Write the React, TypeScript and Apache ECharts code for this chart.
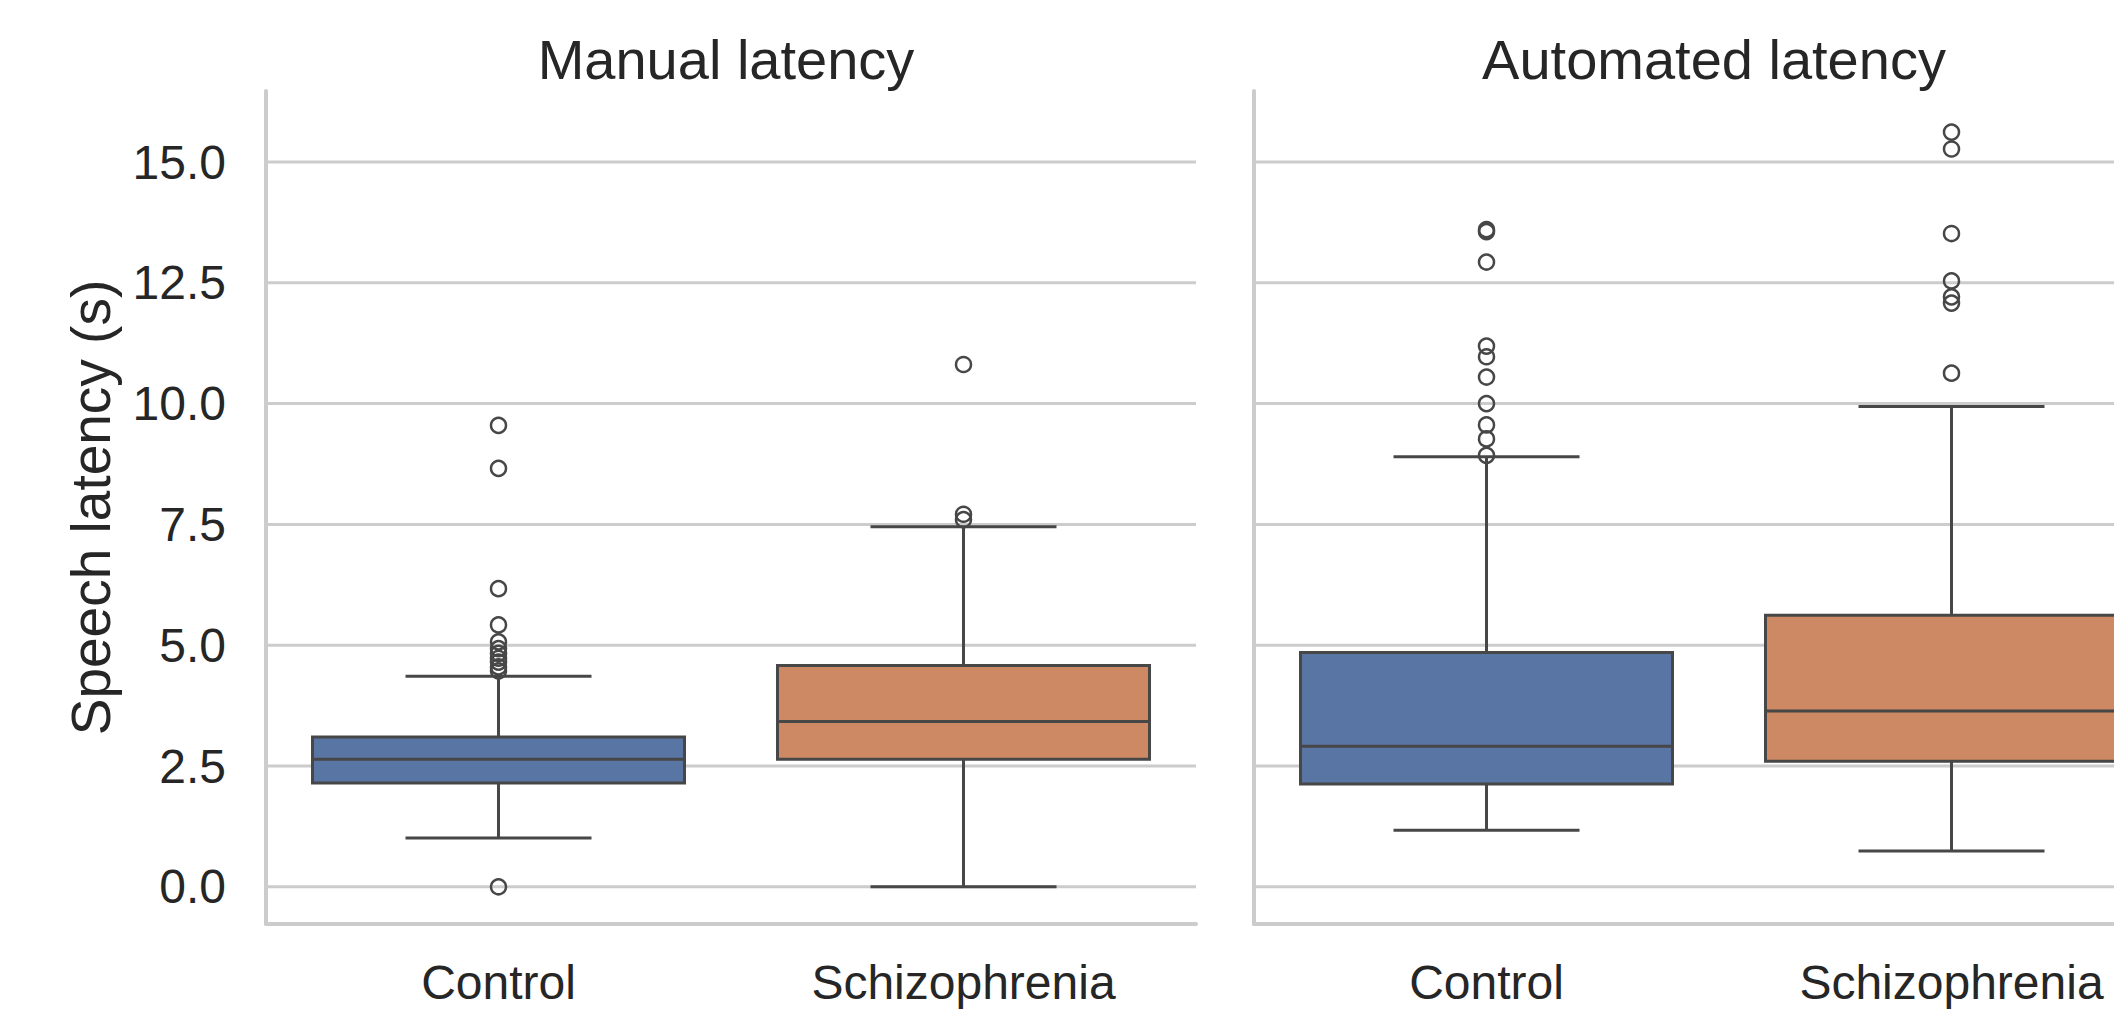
import React, { useEffect, useRef } from "react";
import * as echarts from "echarts";

// ---- data ----
const categories = ["Control", "Schizophrenia"];
const panelTitles = ["Manual latency", "Automated latency"];
const yAxisName = "Speech latency (s)";
const yTicks = [0, 2.5, 5, 7.5, 10, 12.5, 15];
const yMin = -0.77;
const yMax = 16.47;

// [lower whisker, Q1, median, Q3, upper whisker]
const manualControlBox = [1.01, 2.15, 2.64, 3.1, 4.36];
const manualSchizBox = [0.0, 2.64, 3.42, 4.58, 7.45];
const autoControlBox = [1.17, 2.13, 2.91, 4.85, 8.9];
const autoSchizBox = [0.74, 2.6, 3.64, 5.62, 9.94];

const manualControlOutliers = [0.0, 4.47, 4.55, 4.65, 4.73, 4.83, 4.93, 5.07, 5.42, 6.17, 8.66, 9.55];
const manualSchizOutliers = [7.6, 7.71, 10.81];
const autoControlOutliers = [8.93, 9.27, 9.56, 10.0, 10.55, 10.97, 11.19, 12.93, 13.56, 13.6];
const autoSchizOutliers = [10.63, 12.08, 12.21, 12.54, 13.52, 15.27, 15.62];

const boxColors = ["#5875a4", "#cc8963"];
const lineColor = "#474747";
const gridColor = "#cccccc";
const textColor = "#262626";
const font = "'Liberation Sans', Arial, Helvetica, sans-serif";

const panels = [
  { boxes: [manualControlBox, manualSchizBox], outliers: [manualControlOutliers, manualSchizOutliers] },
  { boxes: [autoControlBox, autoSchizBox], outliers: [autoControlOutliers, autoSchizOutliers] },
];

function renderBox(params: any, api: any) {
  const cat = api.value(0);
  const low = api.coord([cat, api.value(1)]);
  const q1 = api.coord([cat, api.value(2)]);
  const med = api.coord([cat, api.value(3)]);
  const q3 = api.coord([cat, api.value(4)]);
  const high = api.coord([cat, api.value(5)]);
  const band = api.size([1, 0])[0];
  const bw = band * 0.8;
  const cw = bw / 2;
  const x = low[0];
  const ls = { stroke: lineColor, lineWidth: 3, fill: "none" };
  return {
    type: "group",
    children: [
      { type: "line", shape: { x1: x, y1: q3[1], x2: x, y2: high[1] }, style: ls },
      { type: "line", shape: { x1: x, y1: q1[1], x2: x, y2: low[1] }, style: ls },
      { type: "line", shape: { x1: x - cw / 2, y1: high[1], x2: x + cw / 2, y2: high[1] }, style: ls },
      { type: "line", shape: { x1: x - cw / 2, y1: low[1], x2: x + cw / 2, y2: low[1] }, style: ls },
      {
        type: "rect",
        shape: { x: x - bw / 2, y: q3[1], width: bw, height: q1[1] - q3[1] },
        style: { fill: boxColors[cat], stroke: lineColor, lineWidth: 3 },
      },
      { type: "line", shape: { x1: x - bw / 2, y1: med[1], x2: x + bw / 2, y2: med[1] }, style: ls },
    ],
  };
}

function renderGridLine(params: any, api: any) {
  const cs = params.coordSys;
  const y = api.coord([0, api.value(1)])[1];
  return {
    type: "line",
    shape: { x1: cs.x, y1: y, x2: cs.x + cs.width, y2: y },
    style: { stroke: gridColor, lineWidth: 3 },
  };
}

export default function App() {
  const ref = useRef<HTMLDivElement>(null);
  useEffect(() => {
    if (!ref.current) return;
    const chart = echarts.init(ref.current, null, { renderer: "svg" });
    const grids = [
      { left: 266, top: 91, width: 930, height: 833, outerBoundsMode: "none", containLabel: false },
      { left: 1254, top: 91, width: 930, height: 833, outerBoundsMode: "none", containLabel: false },
    ];
    const series: any[] = [];
    panels.forEach((p, i) => {
      series.push({
        type: "custom",
        xAxisIndex: i,
        yAxisIndex: i,
        z: 1,
        silent: true,
        renderItem: renderGridLine,
        encode: { x: 0, y: 1 },
        data: yTicks.map((v) => [0, v]),
      });
      series.push({
        type: "custom",
        xAxisIndex: i,
        yAxisIndex: i,
        z: 2,
        renderItem: renderBox,
        encode: { x: 0, y: [1, 2, 3, 4, 5] },
        data: p.boxes.map((b, ci) => [ci, ...b]),
      });
      series.push({
        type: "scatter",
        xAxisIndex: i,
        yAxisIndex: i,
        z: 3,
        symbol: "circle",
        symbolSize: 15,
        itemStyle: { color: "rgba(0,0,0,0)", borderColor: lineColor, borderWidth: 2.5, opacity: 1 },
        data: p.outliers.flatMap((arr, ci) => arr.map((v) => [ci, v])),
      });
    });
    chart.setOption({
      animation: false,
      backgroundColor: "#ffffff",
      grid: grids,
      xAxis: [0, 1].map((i) => ({
        type: "category",
        gridIndex: i,
        data: categories,
        boundaryGap: true,
        axisLine: { show: true, onZero: false, lineStyle: { color: gridColor, width: 4 } },
        axisTick: { show: false },
        splitLine: { show: false },
        axisLabel: { fontSize: 48, color: textColor, fontFamily: font, margin: 34 },
      })),
      yAxis: [0, 1].map((i) => ({
        type: "value",
        gridIndex: i,
        min: yMin,
        max: yMax,
        axisLine: { show: true, onZero: false, lineStyle: { color: gridColor, width: 4 } },
        axisTick: { show: false },
        splitLine: { show: false },
        axisLabel:
          i === 0
            ? {
                show: true,
                customValues: yTicks,
                formatter: (v: number) => v.toFixed(1),
                fontSize: 48,
                color: textColor,
                fontFamily: font,
                margin: 40,
              }
            : { show: false },
        name: i === 0 ? yAxisName : "",
        nameLocation: "middle",
        nameGap: 148,
        nameTextStyle: { fontSize: 55, color: textColor, fontFamily: font },
      })),
      graphic: panelTitles.map((t, i) => ({
        type: "text",
        x: grids[i].left + grids[i].width / 2 - 5,
        y: 59,
        style: {
          text: t,
          fontSize: 56,
          fill: textColor,
          fontFamily: font,
          textAlign: "center",
          textVerticalAlign: "middle",
        },
      })),
      series,
    });
    return () => chart.dispose();
  }, []);
  return (
    <div
      ref={ref}
      style={{ position: "fixed", left: 0, top: 0, width: 2114, height: 1012, background: "#fff" }}
    />
  );
}
